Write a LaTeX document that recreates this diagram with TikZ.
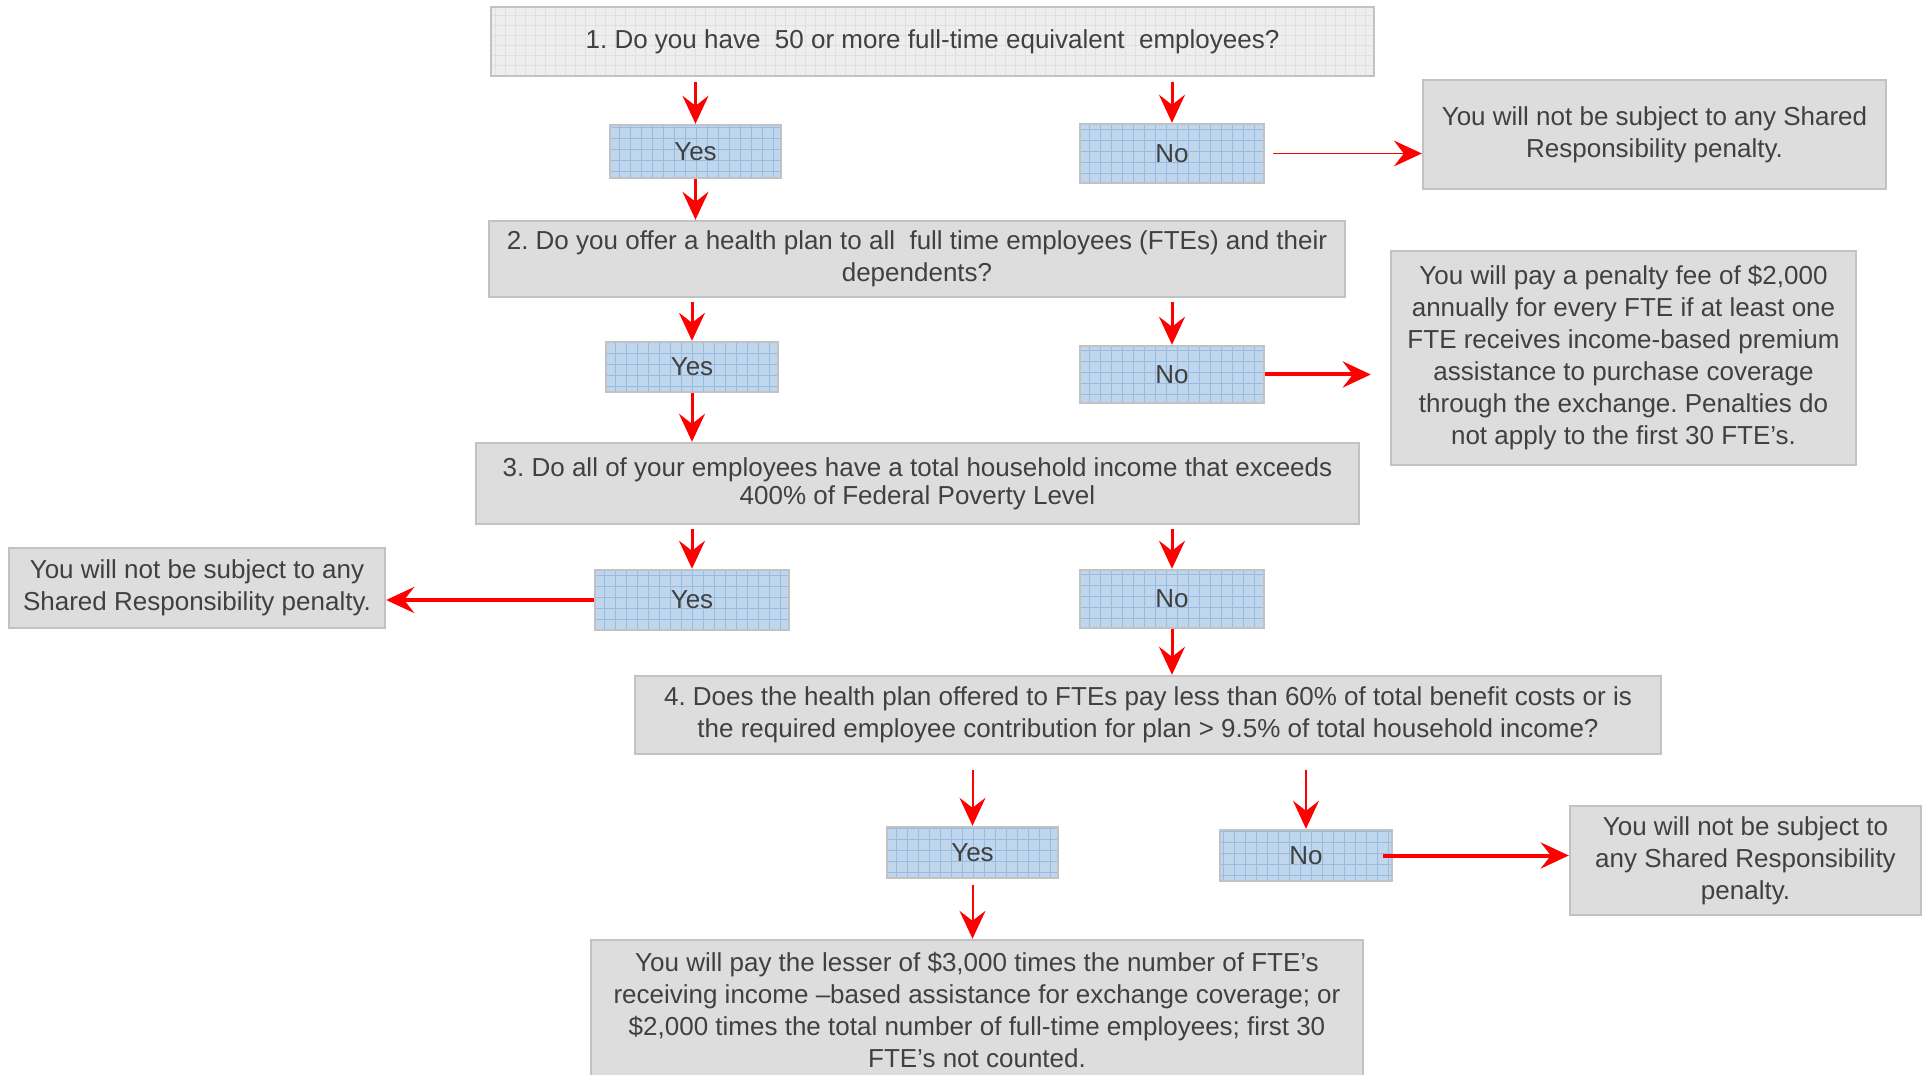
\documentclass[tikz,border=0pt]{standalone}
\usepackage{fontspec}
\setmainfont{Liberation Sans}
\definecolor{boxgray}{RGB}{221,221,221}
\definecolor{boxline}{RGB}{194,194,194}
\definecolor{paleg}{RGB}{238,238,238}
\definecolor{palegrid}{RGB}{224,224,224}
\definecolor{ansblue}{RGB}{192,214,236}
\definecolor{ansgrid}{RGB}{150,188,226}
\definecolor{txtgray}{RGB}{64,64,64}
\definecolor{arrred}{RGB}{255,0,0}
\usetikzlibrary{arrows.meta, calc}
\newcommand{\fsz}{\fontsize{13}{16}\selectfont\frenchspacing}

\begin{document}
\begin{tikzpicture}[x=0.5pt, y=-0.5pt,
  qbox/.style={draw=boxline, line width=1.2pt, fill=boxgray, align=center, text=txtgray, font=\fsz, inner sep=0pt},
  palebox/.style={qbox, fill=paleg, path picture={\draw[palegrid, line width=0.5pt, step=5pt] (path picture bounding box.south west) grid (path picture bounding box.north east);}},
  ansbox/.style={qbox, fill=ansblue, path picture={\draw[ansgrid, line width=0.6pt, step=5.5pt] (path picture bounding box.south west) grid (path picture bounding box.north east);}},
  arr/.style={-{Stealth[length=14pt, width=13pt, inset=5pt]}, arrred, line width=1.5pt}
]
  \clip (0,0) rectangle (1923,1075);

  % Question 1
  \node[palebox, minimum width=441.5pt, minimum height=34.5pt] (q1) at (932.5,41.5) {\raisebox{-1.5pt}{1. Do you have\ \ 50 or more full-time equivalent\ \ employees?}};
  \node[ansbox, minimum width=85.5pt, minimum height=26.5pt] (yes1) at (695.5,151.5) {Yes};
  \node[ansbox, minimum width=92pt, minimum height=29.5pt] (no1) at (1172,153.5) {No};
  \node[qbox, minimum width=231.5pt, minimum height=54.5pt] (r1) at (1654.5,134.5) {You will not be subject to any Shared\\Responsibility penalty.};

  % Question 2
  \node[qbox, minimum width=428pt, minimum height=38pt] (q2) at (917,259) {2. Do you offer a health plan to all\ \ full time employees (FTEs) and their\\dependents?};
  \node[ansbox, minimum width=86pt, minimum height=25pt] (yes2) at (692,367) {Yes};
  \node[ansbox, minimum width=92pt, minimum height=28.5pt] (no2) at (1172,374.5) {No};
  \node[qbox, minimum width=232.5pt, minimum height=107pt] (r2) at (1623.5,358) {You will pay a penalty fee of \$2,000\\annually for every FTE if at least one\\FTE receives income-based premium\\assistance to purchase coverage\\through the exchange. Penalties do\\not apply to the first 30 FTE’s.};

  % Question 3
  \node[qbox, minimum width=441.5pt, minimum height=40.5pt, font=\fontsize{13}{14}\selectfont\frenchspacing] (q3) at (917.5,483.5) {3. Do all of your employees have a total household income that exceeds\\400\% of Federal Poverty Level};
  \node[ansbox, minimum width=97pt, minimum height=30pt] (yes3) at (692,600) {Yes};
  \node[ansbox, minimum width=92pt, minimum height=29pt] (no3) at (1172,599) {No};
  \node[qbox, minimum width=188pt, minimum height=40pt] (l3) at (197,588) {You will not be subject to any\\Shared Responsibility penalty.};

  % Question 4
  \node[qbox, minimum width=513pt, minimum height=39pt] (q4) at (1148,715) {4. Does the health plan offered to FTEs pay less than 60\% of total benefit costs or is\\the required employee contribution for plan > 9.5\% of total household income?};
  \node[ansbox, minimum width=85.5pt, minimum height=25.5pt] (yes4) at (972.5,852.5) {Yes};
  \node[ansbox, minimum width=86pt, minimum height=25.5pt] (no4) at (1306,855.5) {No};
  \node[qbox, minimum width=175.5pt, minimum height=54.5pt] (r4) at (1745.5,860.5) {You will not be subject to\\any Shared Responsibility\\penalty.};
  \node[qbox, minimum width=386pt, minimum height=70pt] (fin) at (977,1010) {You will pay the lesser of \$3,000 times the number of FTE’s\\receiving income –based assistance for exchange coverage; or\\\$2,000 times the total number of full-time employees; first 30\\FTE’s not counted.};

  % Arrows
  \draw[arr, shorten <=2.5pt] (yes1 |- q1.south) -- (yes1.north);
  \draw[arr, shorten <=2.5pt] (no1 |- q1.south) -- (no1.north);
  \draw[arr, line width=0.8pt, shorten <=4pt] (no1.east) -- (no1.east -| r1.west);
  \draw[arr] (yes1.south) -- (yes1 |- q2.north);
  \draw[arr, shorten <=2pt] (yes2 |- q2.south) -- (yes2.north);
  \draw[arr, shorten <=2pt] (no2 |- q2.south) -- (no2.north);
  \draw[arr, line width=2pt, shorten >=9.5pt] (no2.east) -- (no2.east -| r2.west);
  \draw[arr] (yes2.south) -- (yes2 |- q3.north);
  \draw[arr, shorten <=2pt] (yes3 |- q3.south) -- (yes3.north);
  \draw[arr, shorten <=2pt] (no3 |- q3.south) -- (no3.north);
  \draw[arr, line width=2pt] (yes3.west) -- (yes3.west -| l3.east);
  \draw[arr] (no3.south) -- (no3 |- q4.north);
  \draw[arr, line width=1pt, shorten <=7.5pt] (yes4 |- q4.south) -- (yes4.north);
  \draw[arr, line width=1pt, shorten <=7.5pt] (no4 |- q4.south) -- (no4.north);
  \draw[arr, line width=2pt, shorten <=-5pt] (no4.east) -- (no4.east -| r4.west);
  \draw[arr, line width=1pt, shorten <=3pt] (yes4.south) -- (yes4 |- fin.north);
\end{tikzpicture}
\end{document}
